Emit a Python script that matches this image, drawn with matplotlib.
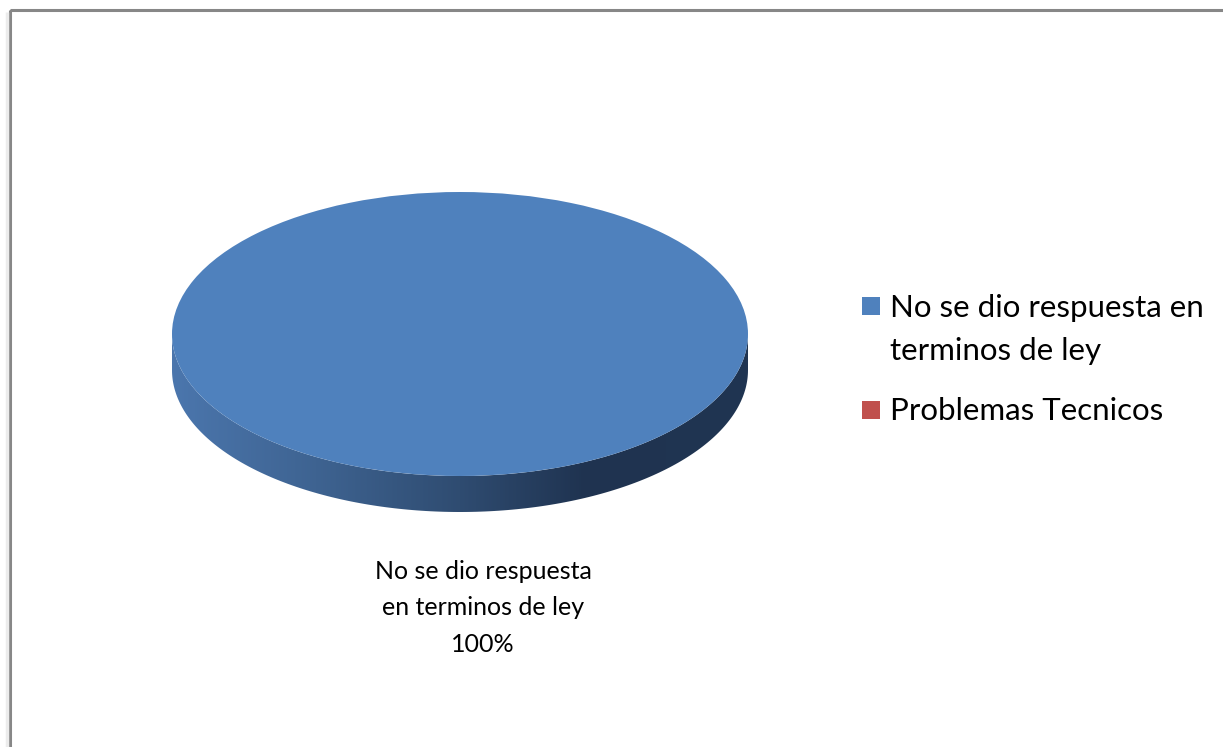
import numpy as np
import matplotlib
matplotlib.use("Agg")
import matplotlib.pyplot as plt
from matplotlib.patches import Rectangle, Polygon
from matplotlib.colors import LinearSegmentedColormap

plt.rcParams['font.family'] = ['Lato', 'DejaVu Sans']

# data
categories = ["No se dio respuesta en terminos de ley", "Problemas Tecnicos"]
legend_labels = ["No se dio respuesta en\nterminos de ley", "Problemas Tecnicos"]
values = [100, 0]
colors = ["#4f81bd", "#c0504d"]

W, H = 1223, 747
fig = plt.figure(figsize=(W / 100, H / 100), dpi=100)

# background axes in pixel units, for the frame and legend
bg = fig.add_axes([0, 0, 1, 1])
bg.set_xlim(0, W)
bg.set_ylim(H, 0)
bg.axis('off')
bg.plot([7, 7], [12, H], color='#ececec', lw=2.5, solid_capstyle='butt')
bg.add_patch(Rectangle((10, 10), 1300, 800, fill=False, ec='#878787', lw=2.2))

# pie geometry (pixels): top ellipse centre (460, 334), radii 288 x 142, depth 36
cx, cy, rx, ry, depth = 460, 334, 288, 142, 36
dz = depth / ry
left = (cx - rx) / W
bottom = (H - (cy + ry + depth)) / H
ax = fig.add_axes([left, bottom, 2 * rx / W, (2 * ry + depth) / H])

wedges, _ = ax.pie(values, colors=colors, startangle=90, counterclock=False,
                   wedgeprops=dict(linewidth=0, clip_on=False))

# side wall of the front half, filled with a horizontal gradient
t = np.linspace(np.pi, 2 * np.pi, 200)
top_arc = np.column_stack([np.cos(t), np.sin(t)])
bot_arc = np.column_stack([np.cos(t[::-1]), np.sin(t[::-1]) - dz])
side = Polygon(np.vstack([top_arc, bot_arc]), closed=True, fc='none', ec='none')
ax.add_patch(side)
cmap = LinearSegmentedColormap.from_list(
    "side", [(0, '#4b76ad'), (0.25, '#3e6391'), (0.5, '#2f4c71'),
             (0.72, '#1f3350'), (1.0, '#203552')])
grad = np.linspace(0, 1, 400).reshape(1, -1)
im = ax.imshow(grad, cmap=cmap, extent=(-1, 1, -1 - dz, 0), aspect='auto', zorder=0)
im.set_clip_path(side)

ax.set_xlim(-1, 1)
ax.set_ylim(-1 - dz, 1)
ax.set_aspect('auto')
ax.axis('off')

# data label under the pie (baseline of last line at y=652 px)
pct = values[0] / sum(values) * 100
ax.text((483 - cx) / rx, -(652 - cy) / ry,
        "No se dio respuesta\nen terminos de ley\n%d%%" % round(pct),
        ha='center', va='baseline', fontsize=18, linespacing=1.72, clip_on=False)

# legend, laid out like the original (square beside the first line)
legend_rows = [297, 401]
line_gap = 44
for lab, col, y in zip(legend_labels, colors, legend_rows):
    bg.add_patch(Rectangle((862, y), 18, 18, fc=col, ec='none'))
    nlines = lab.count("\n") + 1
    bg.text(890, y + 19 + (nlines - 1) * line_gap, lab, ha='left', va='baseline',
            fontsize=22.5, linespacing=1.66)

fig.savefig("out.png", dpi=100)
